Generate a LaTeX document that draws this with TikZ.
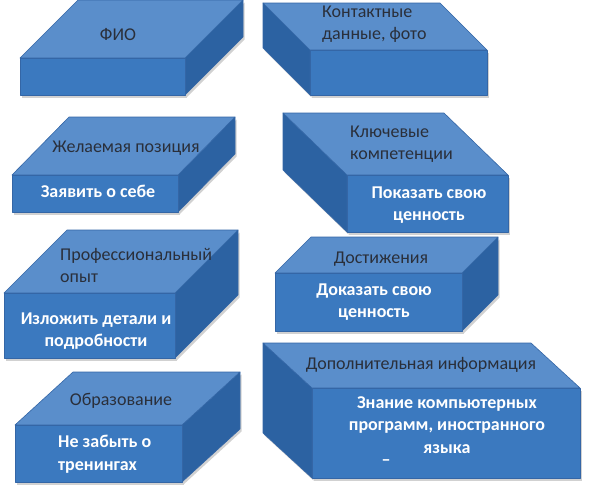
\documentclass[tikz,border=0pt]{standalone}
\usepackage{fontspec}
\setmainfont{Carlito}
\definecolor{topface}{HTML}{5A8ECB}
\definecolor{frontface}{HTML}{3B79BF}
\definecolor{sideface}{HTML}{2C62A2}
\definecolor{edgeline}{HTML}{3466A6}
\definecolor{labeltext}{HTML}{2A2F3A}
\begin{document}
\begin{tikzpicture}[x=1pt, y=-1pt,
    face/.style={draw=edgeline, line width=.6pt, line join=round},
    title/.style={text=labeltext, font=\fontsize{18}{22}\selectfont, inner sep=0pt},
    note/.style={text=white, font=\fontsize{18}{22.5}\selectfont\bfseries, inner sep=0pt, align=center}]
    \useasboundingbox (0,0) rectangle (591,488);
    % boxes: front face, depth, x of the side edge
    \foreach \xa/\ya/\xb/\yb/\dx/\dy/\sx in {20/58/185/95/58/-58/185,
        310/50/487/95/-47/-47/310, 12/175/178/212/57/-58/178,
        347/175/508/232/-64/-62/347, 4/293/175/358/63/-63/175,
        15/425/182/482/58/-53/182, 275/273/462/331/36/-36/462,
        312/388/580/478/-49/-45/312}
    {
        \fill[black!18] ([shift={(1.5,2.5)}]\xa,\ya) rectangle ([shift={(1.5,2.5)}]\xb,\yb);
        \fill[black!18] ([shift={(1.5,2.5)}]\sx,\ya) -- ([shift={(1.5,2.5)}]{\sx+\dx},{\ya+\dy}) -- ([shift={(1.5,2.5)}]{\sx+\dx},{\yb+\dy}) -- ([shift={(1.5,2.5)}]\sx,\yb) -- cycle;
        \draw[face, fill=sideface] (\sx,\ya) -- ({\sx+\dx},{\ya+\dy}) -- ({\sx+\dx},{\yb+\dy}) -- (\sx,\yb) -- cycle;
        \draw[face, fill=topface] (\xa,\ya) -- (\xb,\ya) -- ({\xb+\dx},{\ya+\dy}) -- ({\xa+\dx},{\ya+\dy}) -- cycle;
        \draw[face, fill=frontface] (\xa,\ya) rectangle (\xb,\yb);
    }

    \node[title] (fio) at (118,35) {ФИО};
    \node[title, align=left, anchor=west] (contacts) at (322,24) {Контактные\\данные, фото};
    \node[title] (position) at (126,148) {Желаемая позиция};
    \node[note] (selfstate) at (98,191) {Заявить о себе};
    \node[title, align=left, anchor=west] (skills) at (350,144) {Ключевые\\компетенции};
    \node[note] (worth) at (429,205) {Показать свою\\ценность};
    \node[title, align=left, anchor=west] (career) at (60,265) {Профессиональный\\опыт};
    \node[note] (details) at (96,331) {Изложить детали и\\подробности};
    \node[title] (education) at (121,401) {Образование};
    \node[note, align=left, anchor=west] (training) at (58,454) {Не забыть о\\тренингах};
    \node[title] (achievements) at (381,259) {Достижения};
    \node[note] (proof) at (374,302) {Доказать свою\\ценность};
    \node[title] (extra) at (421,365) {Дополнительная информация};
    \node[note] (extras) at (447,425) {Знание компьютерных\\программ, иностранного\\языка};
    \node[note] (dash) at (386,463) {–};
\end{tikzpicture}
\end{document}
